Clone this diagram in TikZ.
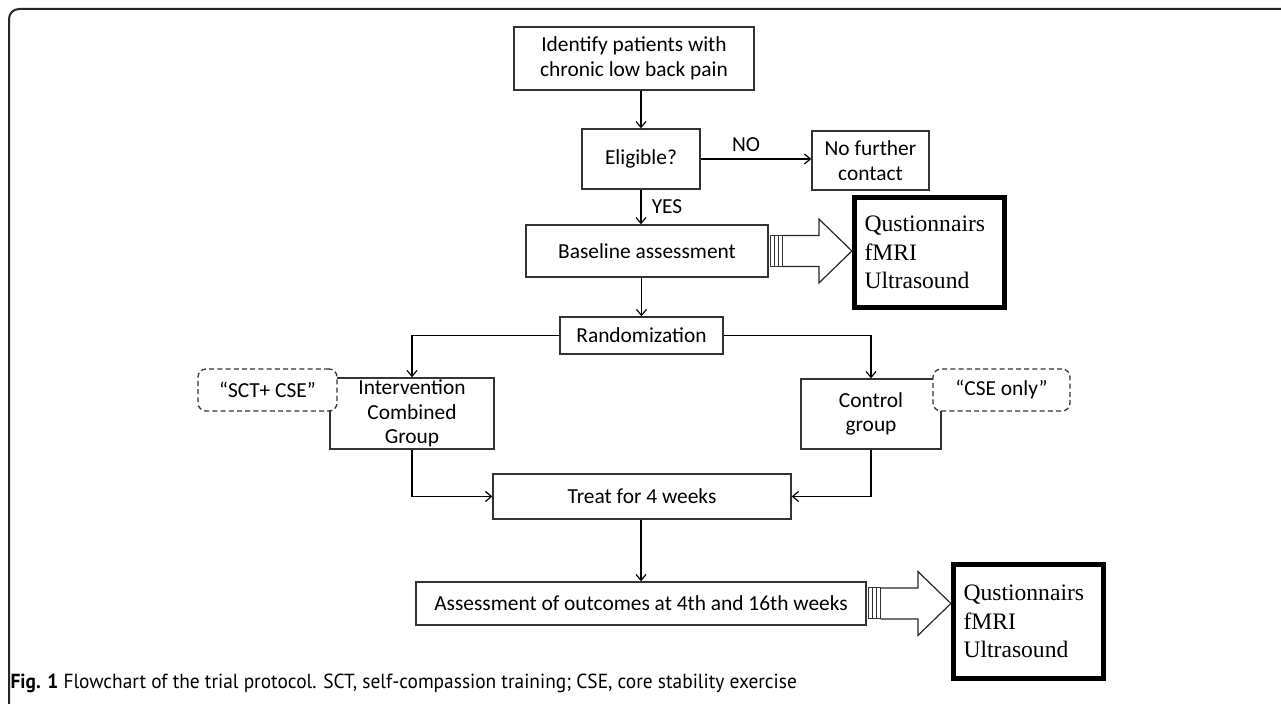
\documentclass[tikz,border=0pt]{standalone}
\usepackage{fontspec}
\setmainfont{Carlito}
\newfontfamily\capfont{PT Sans}
\newfontfamily\timesfont{Liberation Serif}
\usetikzlibrary{
  arrows.meta,
  calc
}

\tikzset{
  boxdim/.style 2 args={minimum width=#1*0.5pt, minimum height=#2*0.5pt},
  flowbox/.style={draw=black!80, line width=0.65pt, align=center, inner sep=0pt,
    font=\fontsize{10.7}{12.4}\selectfont},
  notebox/.style={flowbox, fill=white, dash pattern=on 2.5pt off 1.6pt, rounded corners=4pt},
  measurebox/.style={draw=black, line width=2.6pt, align=left, inner xsep=5pt, inner ysep=0pt,
    text width=65pt, font=\timesfont\fontsize{11.8}{14.2}\selectfont},
  lbl/.style={font=\fontsize{10.7}{12.4}\selectfont, inner sep=0pt},
}

% striped block arrow from the east side of #1 to the west side of #2
\newcommand{\bigarrow}[2]{%
  \path (#1.east) coordinate (ba-s) (#2.west |- #1.east) coordinate (ba-t);
  \foreach \k in {0,1,2}
    \draw[black!80, line width=0.5pt] ($(ba-s)+(2+4*\k,-15.5)$) rectangle ++(4,31);
  \draw[black!85, line width=0.6pt, line join=miter]
    ($(ba-s)+(14,-15.5)$) -- ($(ba-t)+(-33,-15.5)$) -- ($(ba-t)+(-33,-32)$) -- (ba-t)
    -- ($(ba-t)+(-33,32)$) -- ($(ba-t)+(-33,15.5)$) -- ($(ba-s)+(14,15.5)$);
}

\begin{document}
\begin{tikzpicture}[x=0.5pt, y=-0.5pt, >={Straight Barb[length=3pt, width=5pt]},
  every path/.style={line width=0.6pt}]
\useasboundingbox (0,0) rectangle (1281,704);
\draw[black!85, line width=1pt, rounded corners=5pt] (9,720) -- (9,9) -- (1295,9);

% flow boxes
\node[flowbox, boxdim={240}{63}] (ident) at (634,58.5) {Identify patients with\\chronic low back pain};
\node[flowbox, boxdim={118}{60}] (elig) at (641,159) {Eligible?};
\node[flowbox, boxdim={117}{59}] (nofur) at (870.5,160.5) {No further\\contact};
\node[flowbox, boxdim={242}{52}] (base) at (647,251) {Baseline assessment};
\node[flowbox, boxdim={163}{37}] (rand) at (641.5,335.5) {Randomization};
\node[flowbox, boxdim={164}{71}] (interv) at (412,413.5) {Intervention\\Combined\\Group};
\node[flowbox, boxdim={140}{70}] (ctrl) at (871,414) {Control\\group};
\node[notebox, boxdim={139}{42}] (sctcse) at (267.5,390) {“SCT+ CSE”};
\node[notebox, boxdim={137}{42}] (cseonly) at (1001.5,390) {“CSE only”};
\node[flowbox, boxdim={298}{45}] (treat) at (642,496.5) {Treat for 4 weeks};
\node[flowbox, boxdim={450}{43}] (assess) at (641,603.5) {Assessment of outcomes at 4th and 16th weeks};

% measurement boxes
\node[measurebox, boxdim={150}{110}] (meas1) at (929.5,252.5) {Qustionnairs\\fMRI\\Ultrasound};
\node[measurebox, boxdim={150}{114}] (meas2) at (1028.5,621.5) {Qustionnairs\\fMRI\\Ultrasound};

% connectors
\draw[->] (elig.north |- ident.south) -- (elig.north);
\draw[->] (elig.east) -- (nofur.west |- elig.east);
\node[lbl] (no) at (746,145) {NO};
\draw[->] (elig.south) -- (elig.south |- base.north);
\node[lbl] (yes) at (667,207) {YES};
\draw[->] (rand.north |- base.south) -- (rand.north);
\draw[->] (rand.west) -| (interv.north);
\draw[->] (rand.east) -| (ctrl.north);
\draw[->] (interv.south) |- (treat.west);
\draw[->] (ctrl.south) |- (treat.east);
\draw[->] (assess.north |- treat.south) -- (assess.north);

\bigarrow{base}{meas1}
\bigarrow{assess}{meas2}

% caption
\node[anchor=west, inner sep=0pt, font=\capfont\fontsize{10.2}{12}\selectfont] (caption) at (10,683)
  {\scalebox{0.95}[1]{\textbf{Fig. 1} Flowchart of the trial protocol. SCT, self-compassion training; CSE, core stability exercise}};
\end{tikzpicture}
\end{document}
